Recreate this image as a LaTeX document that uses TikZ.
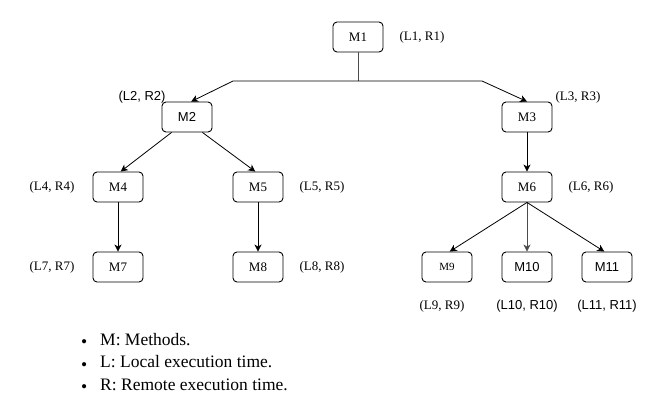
\documentclass[tikz,border=0pt]{standalone}
\usepackage{fontspec}
\setmainfont{Liberation Serif}
\newfontfamily\arialfont{Liberation Sans}
\usepackage{tikz}
\usetikzlibrary{arrows.meta, positioning}
\tikzset{
    metodo/.style  = {draw=black, fill=white, rounded corners=4pt, line width=0.9pt,
                      minimum width=50pt, minimum height=30pt, inner sep=0pt,
                      font=\fontsize{13}{15}\selectfont},
    tempo/.style   = {font=\fontsize{13}{15}\selectfont, inner sep=0pt},
    lig/.style     = {-{Stealth[length=7pt, width=7pt, inset=2pt]}, line width=0.8pt},
    tronco/.style  = {line width=0.9pt, black!70},
    legenda/.style = {font=\fontsize{17.5}{20}\selectfont, anchor=base west, inner sep=0pt},
}
\newcommand{\marca}{\makebox[19pt][l]{\raisebox{-2.6pt}{\textbullet}}}

\begin{document}
\begin{tikzpicture}[x=1pt, y=-1pt]
    \useasboundingbox (0,0) rectangle (655,399);
    \node[metodo] (M1) at (358,37) {M1};
    \node[metodo] (M2) at (187,117) {\arialfont M2};
    \node[metodo] (M3) at (527,117) {M3};
    \node[metodo] (M4) at (118,187) {M4};
    \node[metodo] (M5) at (258,187) {M5};
    \node[metodo] (M6) at (527,187) {M6};
    \node[metodo] (M7) at (118,267) {M7};
    \node[metodo] (M8) at (258,267) {M8};
    \node[metodo, font=\fontsize{11}{13}\selectfont] (M9) at (447,267) {M9};
    \node[metodo] (M10) at (527,267) {\arialfont M10};
    \node[metodo] (M11) at (607,267) {\arialfont M11};
    \node[tempo] (T1) at (422,37) {(L1, R1)};
    \node[tempo] (T2) at (142,97) {\arialfont (L2, R2)};
    \node[tempo] (T3) at (578,97) {(L3, R3)};
    \node[tempo] (T4) at (52,187) {(L4, R4)};
    \node[tempo] (T5) at (322,187) {(L5, R5)};
    \node[tempo] (T6) at (591,187) {(L6, R6)};
    \node[tempo] (T7) at (52,267) {(L7, R7)};
    \node[tempo] (T8) at (322,267) {(L8, R8)};
    \node[tempo] (T9) at (442,306) {(L9, R9)};
    \node[tempo] (T10) at (527,306) {\arialfont (L10, R10)};
    \node[tempo] (T11) at (607,306) {\arialfont (L11, R11)};
    \coordinate (split) at (358,81);
    \coordinate (esq) at (233,81);
    \coordinate (dir) at (482,81);
    \draw[tronco] (M1) -- (split);
    \draw[lig] (split) -- (esq) -- (M2.75);
    \draw[lig] (split) -- (dir) -- (M3.north);
    \draw[lig] (M2.225) -- (M4.80);
    \draw[lig] (M2.315) -- (M5.100);
    \draw[lig] (M3) -- (M6);
    \draw[lig] (M4) -- (M7);
    \draw[lig] (M5) -- (M8);
    \draw[lig] (M6.south) -- (M9.80);
    \draw[lig, black!70] (M6.south) -- (M10.north);
    \draw[lig] (M6.south) -- (M11.100);
    \node[legenda] (defM) at (81,345) {\marca M: Methods.};
    \node[legenda] (defL) at (81,367.5) {\marca L: Local execution time.};
    \node[legenda] (defR) at (81,390) {\marca R: Remote execution time.};
\end{tikzpicture}
\end{document}
